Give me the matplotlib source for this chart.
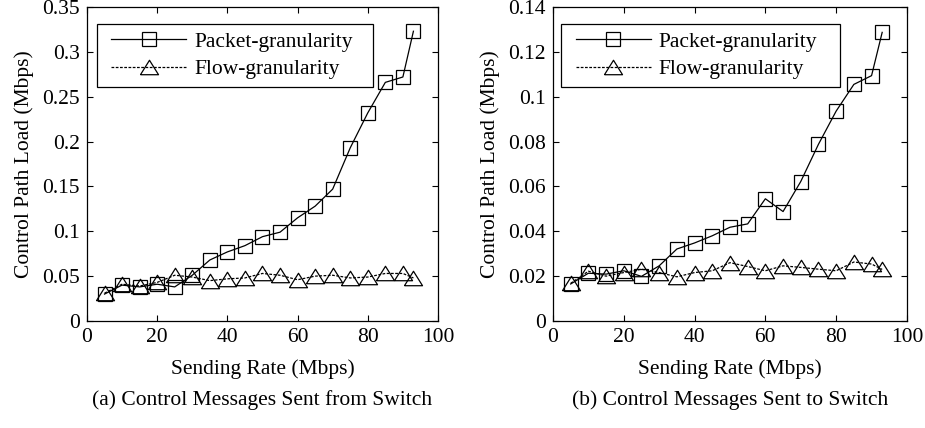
import matplotlib
matplotlib.use("Agg")
import matplotlib.pyplot as plt
from matplotlib.legend_handler import HandlerLine2D

# sending rates (Mbps)
rates = [5, 10, 15, 20, 25, 30, 35, 40, 45, 50, 55, 60, 65, 70, 75, 80, 85, 90, 93]

# (a) control messages sent from switch
from_packet = [0.030, 0.040, 0.038, 0.041, 0.038, 0.051, 0.068, 0.077, 0.084, 0.094, 0.099,
               0.115, 0.128, 0.147, 0.193, 0.232, 0.266, 0.272, 0.323]
from_flow = [0.031, 0.041, 0.039, 0.043, 0.051, 0.049, 0.045, 0.047, 0.048, 0.053, 0.051,
             0.046, 0.050, 0.051, 0.048, 0.049, 0.053, 0.053, 0.048]

# (b) control messages sent to switch
to_packet = [0.0165, 0.0213, 0.0209, 0.0224, 0.0199, 0.0246, 0.0321, 0.0348, 0.0380, 0.0418, 0.0433,
             0.0545, 0.0488, 0.0622, 0.0788, 0.0936, 0.1055, 0.1094, 0.1287]
to_flow = [0.0168, 0.0222, 0.0200, 0.0216, 0.0231, 0.0216, 0.0197, 0.0216, 0.0224, 0.0260, 0.0243,
           0.0224, 0.0246, 0.0239, 0.0231, 0.0224, 0.0263, 0.0254, 0.0230]

from_yticks = [0, 0.05, 0.1, 0.15, 0.2, 0.25, 0.3, 0.35]
from_ylabels = ["0", "0.05", "0.1", "0.15", "0.2", "0.25", "0.3", "0.35"]
to_yticks = [0, 0.02, 0.04, 0.06, 0.08, 0.1, 0.12, 0.14]
to_ylabels = ["0", "0.02", "0.04", "0.06", "0.08", "0.1", "0.12", "0.14"]
xticks = [0, 20, 40, 60, 80, 100]

captions = ["(a) Control Messages Sent from Switch", "(b) Control Messages Sent to Switch"]

# a slightly flattened up-triangle, wider than tall
FLAT_TRIANGLE = [(-1.0, -0.8), (1.0, -0.8), (0.0, 0.8), (-1.0, -0.8)]

plt.rcParams["font.family"] = ["Liberation Serif", "DejaVu Serif"]
plt.rcParams["font.size"] = 15.5

fig = plt.figure(figsize=(9.25, 4.28), dpi=100)
ax_a = fig.add_axes([0.094, 0.2500, 0.3795, 0.7336])
ax_b = fig.add_axes([0.5978, 0.2500, 0.3827, 0.7336])

# legend box (x0, width) in axes fraction for each panel
panels = [
    (ax_a, from_packet, from_flow, from_yticks, from_ylabels, 0.028, 0.786),
    (ax_b, to_packet, to_flow, to_yticks, to_ylabels, 0.024, 0.786),
]

for ax, packet, flow, yticks, ylabels, leg_x, leg_w in panels:
    ax.plot(rates, packet, color="black", linewidth=0.9, linestyle="-",
            marker="s", markersize=9.5, markerfacecolor="none",
            markeredgecolor="black", markeredgewidth=0.9, label="Packet-granularity")
    ax.plot(rates, flow, color="black", linewidth=0.9, linestyle=(0, (2.2, 1.2)),
            marker=FLAT_TRIANGLE, markersize=13, markerfacecolor="none",
            markeredgecolor="black", markeredgewidth=0.9, label="Flow-granularity")
    ax.set_xlim(0, 100)
    ax.set_ylim(yticks[0], yticks[-1])
    ax.set_xticks(xticks)
    ax.set_xticklabels([str(t) for t in xticks])
    ax.set_yticks(yticks)
    ax.set_yticklabels(ylabels)
    ax.tick_params(direction="in", length=4, width=0.8, top=True, right=True, pad=5)
    for spine in ax.spines.values():
        spine.set_linewidth(0.9)
    ax.set_xlabel("Sending Rate (Mbps)", labelpad=9)
    ax.set_ylabel("Control Path Load (Mbps)", labelpad=6)
    legend = ax.legend(loc="upper left", bbox_to_anchor=(leg_x, 0.945, leg_w, 0.0),
                       mode="expand", borderaxespad=0,
                       handlelength=3.8, handletextpad=0.37, borderpad=0.35,
                       labelspacing=0.35, fancybox=False, framealpha=1.0,
                       handler_map={plt.Line2D: HandlerLine2D(xpad=0.33)})
    legend.get_frame().set_edgecolor("black")
    legend.get_frame().set_linewidth(0.9)

fig.text(0.2835, 1 - 400 / 428, captions[0], ha="center", va="center")
fig.text(0.789, 1 - 400 / 428, captions[1], ha="center", va="center")

fig.savefig("out.png", dpi=100, facecolor="white")
